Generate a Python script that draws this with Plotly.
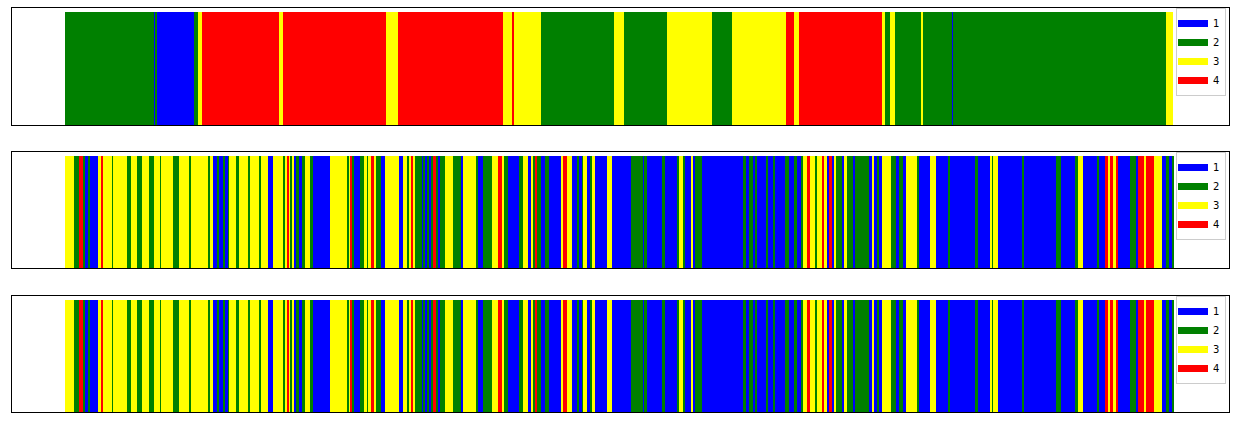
import numpy as np
import plotly.graph_objects as go

# ---- data: state sequences as runs (state, run length in time steps) ----
STATE_NAMES = ["1", "2", "3", "4"]
STATE_COLORS = {1: "#0000ff", 2: "#008000", 3: "#ffff00", 4: "#ff0000"}

top_states = [2, 1, 2, 1, 2, 3, 4, 3, 4, 3, 4, 3, 4, 3, 2, 3, 2, 3, 2, 3, 4, 3, 4, 3, 2, 3, 2, 3, 2, 1, 2, 3]
top_lengths = [89, 1, 2, 37, 4, 4, 77, 4, 103, 12, 105, 9, 2, 27, 73, 10, 43, 45, 20, 54, 8, 5, 83, 3, 5, 5, 26, 1, 30, 1, 213, 7]

mid_states = [
    3, 2, 4, 2, 1, 2, 1, 3, 4, 3,
    2, 3, 2, 3, 2, 3, 2, 3, 2, 3,
    2, 3, 2, 3, 2, 3, 1, 2, 1, 2,
    1, 2, 3, 2, 3, 2, 3, 2, 3, 1,
    3, 2, 3, 4, 3, 2, 3, 1, 2, 1,
    2, 3, 2, 1, 3, 2, 3, 4, 2, 1,
    2, 3, 2, 3, 4, 3, 2, 1, 3, 1,
    3, 2, 3, 4, 3, 2, 1, 2, 1, 2,
    1, 2, 4, 2, 1, 2, 3, 2, 1, 3,
    2, 1, 2, 3, 4, 3, 2, 1, 2, 3,
    1, 3, 2, 4, 2, 1, 2, 1, 3, 4,
    3, 1, 2, 1, 2, 3, 1, 2, 3, 1,
    3, 1, 2, 1, 2, 1, 2, 1, 2, 3,
    2, 1, 3, 1, 2, 1, 2, 1, 2, 1,
    2, 1, 2, 1, 2, 1, 2, 1, 2, 1,
    2, 3, 4, 3, 2, 3, 4, 3, 1, 4,
    1, 3, 2, 1, 3, 2, 1, 2, 1, 3,
    1, 2, 1, 3, 2, 1, 2, 1, 3, 2,
    1, 3, 1, 2, 1, 2, 1, 3, 2, 3,
    1, 2, 1, 2, 1, 2, 3, 1, 2, 1,
    4, 3, 4, 3, 4, 1, 2, 1, 4, 3,
    4, 3, 1, 2, 1, 2,
]
mid_lengths = [
    9, 5, 4, 2, 3, 2, 8, 3, 2, 9,
    1, 14, 4, 6, 5, 7, 5, 6, 1, 12,
    6, 10, 2, 17, 2, 3, 4, 2, 4, 2,
    3, 1, 7, 3, 9, 2, 9, 2, 7, 5,
    10, 2, 2, 1, 2, 2, 2, 2, 3, 3,
    3, 5, 3, 17, 17, 2, 1, 2, 2, 6,
    4, 3, 1, 3, 3, 2, 5, 4, 14, 4,
    4, 2, 2, 2, 2, 7, 1, 2, 2, 1,
    3, 2, 3, 1, 3, 5, 8, 8, 2, 13,
    2, 5, 9, 6, 4, 1, 5, 11, 4, 5,
    3, 2, 2, 2, 4, 4, 4, 12, 2, 4,
    5, 5, 2, 3, 1, 4, 3, 2, 3, 12,
    5, 19, 12, 1, 3, 15, 3, 12, 2, 4,
    2, 6, 2, 2, 7, 41, 3, 3, 4, 2,
    2, 9, 2, 5, 2, 10, 4, 5, 3, 4,
    2, 4, 3, 5, 2, 5, 2, 3, 2, 3,
    2, 2, 6, 2, 3, 6, 2, 14, 3, 1,
    4, 2, 3, 9, 5, 3, 4, 3, 11, 2,
    11, 6, 12, 2, 25, 3, 12, 2, 1, 5,
    24, 1, 33, 5, 14, 3, 5, 14, 2, 6,
    3, 2, 3, 3, 1, 13, 6, 2, 6, 2,
    8, 8, 4, 3, 3, 1,
]

bot_states = list(mid_states)
bot_lengths = list(mid_lengths)

panels = [(top_states, top_lengths), (mid_states, mid_lengths), (bot_states, bot_lengths)]

# ---- figure ----
W, H = 1243, 427
fig = go.Figure()

x_dom = [12 / W, 1229 / W]
y_doms = [
    [1 - 125 / H, 1 - 8 / H],
    [1 - 268 / H, 1 - 152 / H],
    [1 - 412 / H, 1 - 296 / H],
]
legend_tops = [8, 152, 296]

N = sum(top_lengths)
xr = [-0.048 * N, N + 0.0505 * N]

for i, (states, lengths) in enumerate(panels):
    k = i + 1
    xa = "x" if k == 1 else f"x{k}"
    ya = "y" if k == 1 else f"y{k}"
    lg = "legend" if k == 1 else f"legend{k}"
    lengths_a = np.array(lengths, dtype=float)
    states_a = np.array(states)
    starts = np.concatenate([[0], np.cumsum(lengths_a)[:-1]])
    for s in [1, 2, 3, 4]:
        m = states_a == s
        if m.any():
            fig.add_trace(go.Bar(
                x=starts[m] + lengths_a[m] / 2,
                y=np.ones(m.sum()),
                width=lengths_a[m],
                marker=dict(color=STATE_COLORS[s], line=dict(width=0)),
                showlegend=False,
                hoverinfo="skip",
                xaxis=xa, yaxis=ya,
            ))
    for s, name in zip([1, 2, 3, 4], STATE_NAMES):
        fig.add_trace(go.Scatter(
            x=[None], y=[None], mode="lines",
            line=dict(color=STATE_COLORS[s], width=7),
            name=name, legend=lg, xaxis=xa, yaxis=ya,
        ))

    ax_common = dict(showline=True, mirror=True, linecolor="black", linewidth=1,
                     showticklabels=False, ticks="", showgrid=False, zeroline=False,
                     fixedrange=True)
    fig.layout[("xaxis" if k == 1 else f"xaxis{k}")] = dict(
        domain=x_dom, range=xr, anchor=ya, **ax_common)
    fig.layout[("yaxis" if k == 1 else f"yaxis{k}")] = dict(
        domain=y_doms[i], range=[0, 1.035], anchor=xa, **ax_common)
    fig.layout[lg] = dict(
        x=1226 / W, xanchor="right", y=1 - legend_tops[i] / H, yanchor="top",
        bgcolor="rgba(255,255,255,0.85)", bordercolor="#cccccc", borderwidth=1,
        font=dict(family="DejaVu Sans", size=10, color="black"),
        itemwidth=30, tracegroupgap=0, indentation=-4,
    )

fig.update_layout(
    width=W, height=H,
    margin=dict(l=0, r=0, t=0, b=0),
    paper_bgcolor="white", plot_bgcolor="white",
    barmode="overlay", bargap=0,
)

fig.write_html("out.html")
